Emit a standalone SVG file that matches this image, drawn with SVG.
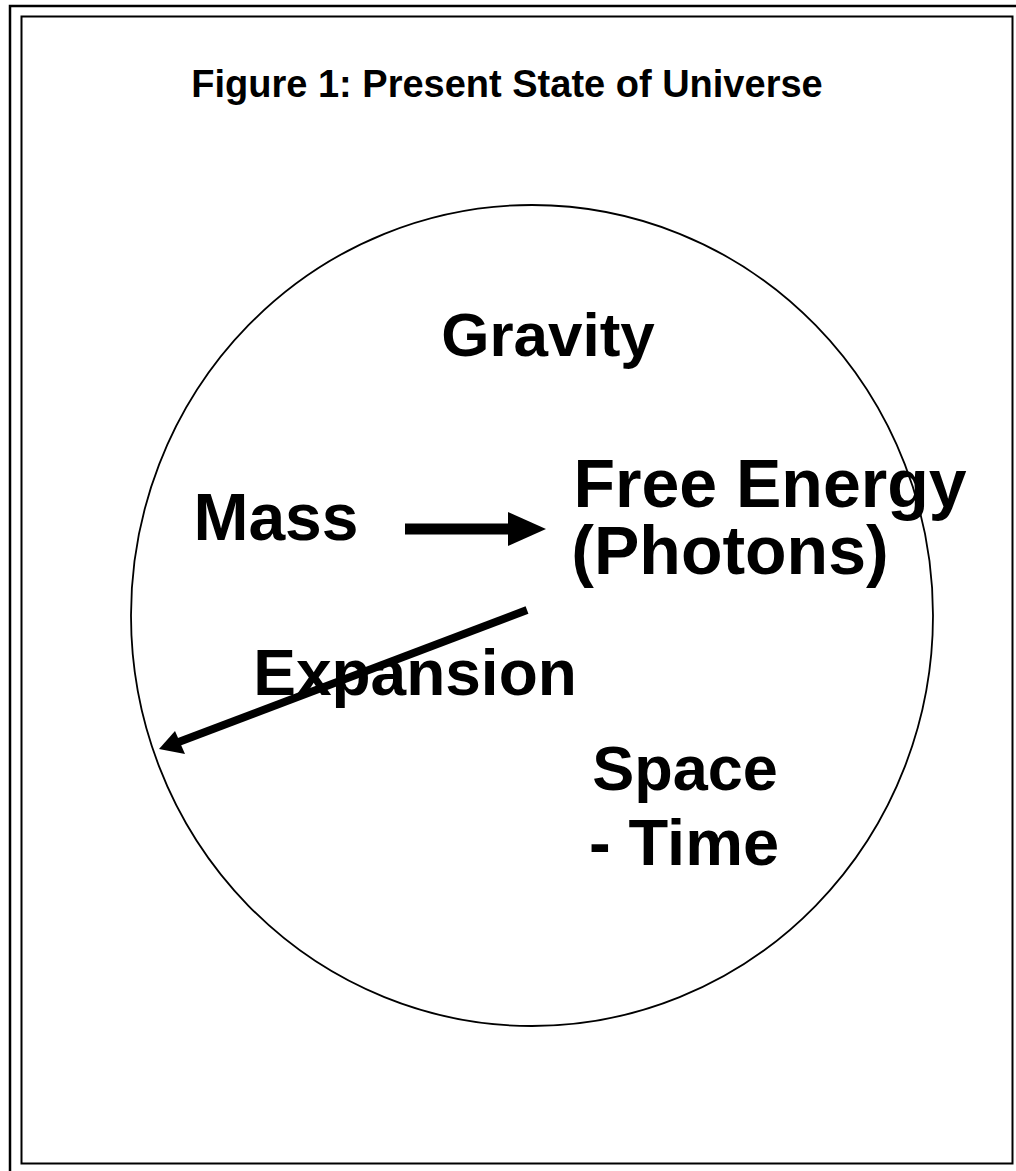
<svg xmlns="http://www.w3.org/2000/svg" width="1016" height="1171" viewBox="0 0 1016 1171">
<style>
.lbl{font-family:"Liberation Sans",Arial,sans-serif;font-weight:bold;fill:#000}
.frame{fill:none;stroke:#000}
</style>
<rect width="1016" height="1171" fill="#fff"/>
<g id="frame">
<path class="frame" d="M10,1171 V6 H1016" stroke-width="2.5"/>
<rect class="frame" x="21.5" y="16.5" width="991" height="1147" stroke-width="2" stroke="#333"/>
</g>
<g id="title"><text class="lbl" x="507" y="97" font-size="38" text-anchor="middle">Figure 1: Present State of Universe</text></g>
<g id="universe"><ellipse cx="532" cy="615.5" rx="401" ry="410.5" fill="none" stroke="#000" stroke-width="1.8"/></g>
<g id="gravity"><text class="lbl" x="548" y="356" font-size="62" text-anchor="middle">Gravity</text></g>
<g id="mass"><text class="lbl" x="276" y="540" font-size="66" text-anchor="middle">Mass</text></g>
<g id="free-energy"><text class="lbl" x="770" y="507" font-size="68" text-anchor="middle">Free Energy</text><text class="lbl" x="730" y="574" font-size="68" text-anchor="middle">(Photons)</text></g>
<g id="expansion"><text class="lbl" x="415" y="695" font-size="64" text-anchor="middle">Expansion</text></g>
<g id="spacetime"><text class="lbl" x="685" y="790" font-size="63" text-anchor="middle">Space</text><text class="lbl" x="684" y="865" font-size="65" text-anchor="middle">- Time</text></g>
<g id="connectors">
<line x1="405" y1="529" x2="510" y2="529" stroke="#000" stroke-width="11"/>
<path d="M508,512 L546,529 L508,546 Z" fill="#000"/>
<line x1="527" y1="610" x2="176" y2="743" stroke="#000" stroke-width="8"/>
<path d="M159,749 L175,731 L185,754 Z" fill="#000"/>
</g>
</svg>
